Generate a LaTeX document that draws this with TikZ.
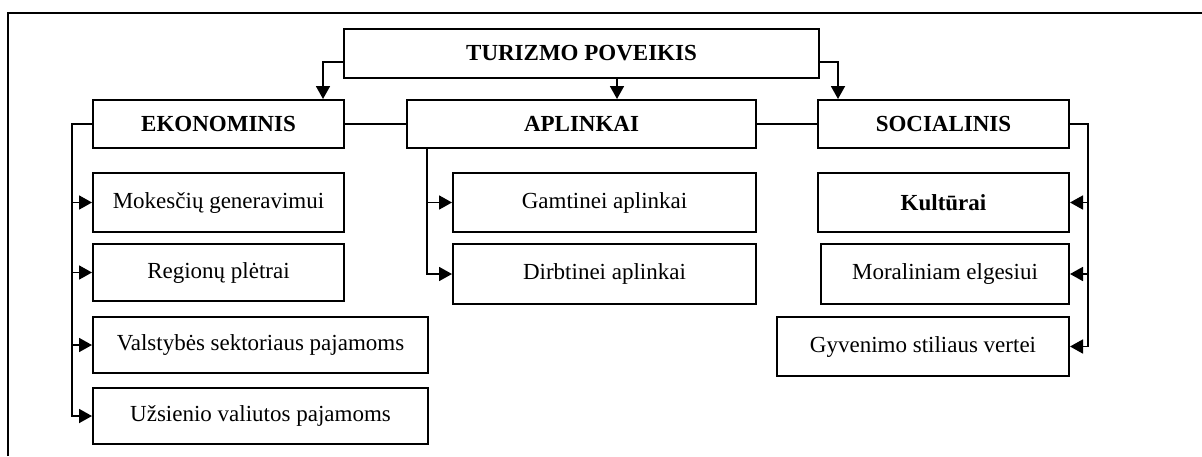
\documentclass[tikz,border=0pt]{standalone}
\usepackage{fontspec}
\setmainfont{Liberation Serif}
\usetikzlibrary{arrows.meta}
\begin{document}
\begin{tikzpicture}[x=1pt,y=-1pt,
  box/.style={draw, line width=2pt, rectangle, anchor=north west, inner sep=0pt,
    font=\fontsize{23}{26}\selectfont},
  conn/.style={line width=1.8pt},
  arr/.style={line width=1.8pt, -{Triangle[length=13pt,width=14pt]}}]
\useasboundingbox (0,0) rectangle (1202,456);
\draw[line width=2.2pt] (8,456) -- (8,13) -- (1202,13);
% nodes
\node[box, minimum width=475pt, minimum height=49pt] (T) at (343,28) {\textbf{TURIZMO POVEIKIS}};
\node[box, minimum width=251pt, minimum height=48pt] (E) at (92,99) {\textbf{EKONOMINIS}};
\node[box, minimum width=349pt, minimum height=48pt] (A) at (406,99) {\textbf{APLINKAI}};
\node[box, minimum width=251pt, minimum height=48pt] (S) at (817,99) {\textbf{SOCIALINIS}};
\node[box, minimum width=251pt, minimum height=59pt] (M) at (92,172) {Mokesčių generavimui};
\node[box, minimum width=251pt, minimum height=57pt] (R) at (92,243) {Regionų plėtrai};
\node[box, minimum width=335pt, minimum height=56pt] (V) at (92,316) {Valstybės sektoriaus pajamoms};
\node[box, minimum width=335pt, minimum height=56pt] (U) at (92,387) {Užsienio valiutos pajamoms};
\node[box, minimum width=303pt, minimum height=59pt] (G) at (452,172) {Gamtinei aplinkai};
\node[box, minimum width=303pt, minimum height=60pt] (D) at (452,243) {Dirbtinei aplinkai};
\node[box, minimum width=251pt, minimum height=59pt] (K) at (817,172) {\textbf{Kultūrai}};
\node[box, minimum width=248pt, minimum height=60pt] (MO) at (820,243) {Moraliniam elgesiui};
\node[box, minimum width=292pt, minimum height=59pt] (GY) at (776,316) {Gyvenimo stiliaus vertei};
% junction coordinates
\coordinate (jl) at (323,62);
\coordinate (jm) at (617,0);
\coordinate (jr) at (838,62);
\coordinate (bl) at (72,0);
\coordinate (bm) at (427,0);
\coordinate (br) at (1088,0);
% top connectors
\draw[arr] (T.west |- jl) -| (E.north -| jl);
\draw[arr] (T.south -| jm) -- (A.north -| jm);
\draw[arr] (T.east |- jr) -| (S.north -| jr);
\draw[conn] (E.east) -- (A.west);
\draw[conn] (A.east) -- (S.west);
% left bus
\draw[arr] (E.west) -| (bl |- U.west) -- (U.west);
\draw[arr] (bl |- M.west) -- (M.west);
\draw[arr] (bl |- R.west) -- (R.west);
\draw[arr] (bl |- V.west) -- (V.west);
% middle bus
\draw[arr] (A.south -| bm) |- (D.west);
\draw[arr] (bm |- G.west) -- (G.west);
% right bus
\draw[arr] (S.east) -| (br |- GY.east) -- (GY.east);
\draw[arr] (br |- K.east) -- (K.east);
\draw[arr] (br |- MO.east) -- (MO.east);
\end{tikzpicture}
\end{document}
